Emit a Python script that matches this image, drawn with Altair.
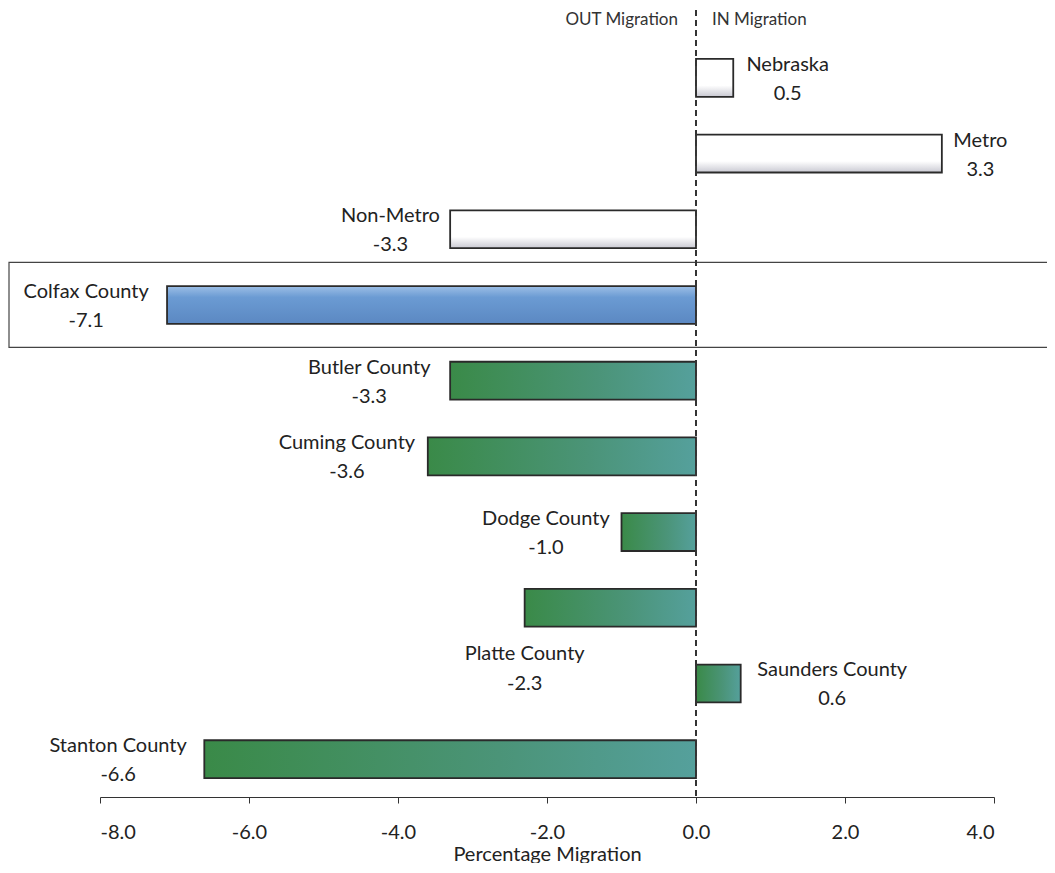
import altair as alt
import pandas as pd

# ---- data ----
regions = ["Nebraska", "Metro", "Non-Metro", "Colfax County", "Butler County",
           "Cuming County", "Dodge County", "Platte County", "Saunders County",
           "Stanton County"]
values = [0.5, 3.3, -3.3, -7.1, -3.3, -3.6, -1.0, -2.3, 0.6, -6.6]
groups = ["state", "state", "state", "focus", "county",
          "county", "county", "county", "county", "county"]
x_ticks = [-8, -6, -4, -2, 0, 2, 4]
headers = ["OUT Migration", "IN Migration"]

W, H = 894, 757
PX_PER_UNIT = W / 12.0
FONT = "Lato"

df = pd.DataFrame({"region": regions, "value": values, "group": groups})
df["value_text"] = df["value"].map(lambda v: f"{v:.1f}")
# label centre: beside the bar end, away from zero (estimated text width)
half_w = df["region"].str.len() * 10.6 / 2 + 12
sign = df["value"].apply(lambda v: 1 if v >= 0 else -1)
df["label_x"] = df["value"] + sign * half_w / PX_PER_UNIT
df["below"] = df["region"] == "Platte County"
df.loc[df["below"], "label_x"] = df.loc[df["below"], "value"]

xscale = alt.Scale(domain=[-8, 4], nice=False, zero=False)
xaxis = alt.Axis(values=x_ticks, format=".1f", title="Percentage Migration",
                 labelExpr="replace(datum.label, '\u2212', '-')",
                 grid=False, labelFontSize=20, titleFontSize=20,
                 labelFont=FONT, titleFont=FONT, titleFontWeight="normal",
                 labelColor="#222", titleColor="#222", domainColor="#333",
                 tickColor="#333", tickSize=6, labelPadding=19, titlePadding=2,
                 domainWidth=1.2)
yenc = alt.Y("region:N", sort=regions, axis=None,
             scale=alt.Scale(domain=regions, paddingInner=0.5, paddingOuter=0.25))

def X(field):
    return alt.X(field, scale=xscale, axis=xaxis)

base = alt.Chart(df)

box = base.transform_filter(alt.datum.group == "focus").mark_bar(
    size=85, fill="white", stroke="#444", strokeWidth=1.2
).encode(y=yenc, x=alt.value(-91), x2=alt.value(W + 80))

white_grad = alt.LinearGradient(
    gradient="linear", x1=0, x2=0, y1=0, y2=1,
    stops=[alt.GradientStop(color="#ffffff", offset=0),
           alt.GradientStop(color="#ffffff", offset=0.7),
           alt.GradientStop(color="#c9c9d2", offset=1)])
blue_grad = alt.LinearGradient(
    gradient="linear", x1=0, x2=0, y1=0, y2=1,
    stops=[alt.GradientStop(color="#9dbfe6", offset=0),
           alt.GradientStop(color="#6b9bd3", offset=0.3),
           alt.GradientStop(color="#5b88c2", offset=1)])
green_grad = alt.LinearGradient(
    gradient="linear", x1=0, x2=1, y1=0, y2=0,
    stops=[alt.GradientStop(color="#3a8a48", offset=0),
           alt.GradientStop(color="#4b9478", offset=0.6),
           alt.GradientStop(color="#55a09c", offset=1)])

def bars(group, fill):
    return base.transform_filter(alt.datum.group == group).mark_bar(
        fill=fill, stroke="#2a2a2a", strokeWidth=1.8
    ).encode(y=yenc, x=X("value:Q"))

zero_df = pd.DataFrame({"zero": [0]})
zero_rule = alt.Chart(zero_df).mark_rule(
    strokeDash=[6, 4], color="#333", strokeWidth=2
).encode(x=X("zero:Q"), y=alt.value(-30), y2=alt.value(H))

txt_kw = dict(align="center", baseline="middle", fontSize=20, font=FONT, color="#222")
name_side = base.transform_filter(alt.datum.below == False).mark_text(dy=-13, **txt_kw).encode(
    x=X("label_x:Q"), y=yenc, text="region:N")
val_side = base.transform_filter(alt.datum.below == False).mark_text(dy=16, **txt_kw).encode(
    x=X("label_x:Q"), y=yenc, text="value_text:N")
name_below = base.transform_filter(alt.datum.below == True).mark_text(dy=46, **txt_kw).encode(
    x=X("label_x:Q"), y=yenc, text="region:N")
val_below = base.transform_filter(alt.datum.below == True).mark_text(dy=76, **txt_kw).encode(
    x=X("label_x:Q"), y=yenc, text="value_text:N")

hdr_df = pd.DataFrame({"pos": [0, 0], "text": headers})
hdr_out = alt.Chart(hdr_df).transform_filter(alt.datum.text == headers[0]).mark_text(
    align="right", baseline="middle", dx=-18, fontSize=17, font=FONT, color="#333"
).encode(x=X("pos:Q"), y=alt.value(-20), text="text:N")
hdr_in = alt.Chart(hdr_df).transform_filter(alt.datum.text == headers[1]).mark_text(
    align="left", baseline="middle", dx=16, fontSize=17, font=FONT, color="#333"
).encode(x=X("pos:Q"), y=alt.value(-20), text="text:N")

chart = alt.layer(
    box, bars("state", white_grad), bars("focus", blue_grad), bars("county", green_grad),
    zero_rule, name_side, val_side, name_below, val_below, hdr_out, hdr_in
).properties(
    width=W, height=H,
    autosize=alt.AutoSizeParams(type="none"),
    padding={"left": 92, "top": 32, "right": 53, "bottom": 66},
    background="white",
).configure_view(stroke=None)

chart.save("out.html", embed_options={"renderer": "svg", "actions": False})
